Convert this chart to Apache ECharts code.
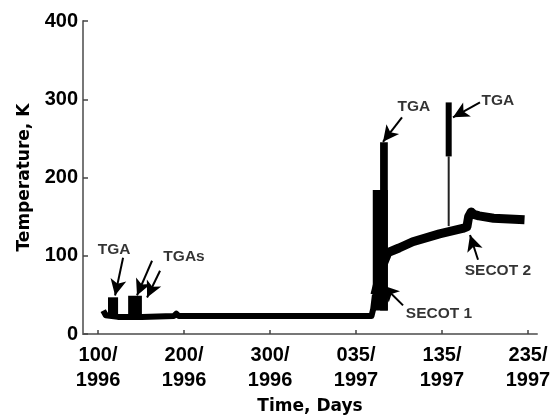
<!DOCTYPE html>
<html>
<head>
<meta charset="utf-8">
<script src="https://cdn.jsdelivr.net/npm/echarts@6/dist/echarts.min.js"></script>
<style>html,body{margin:0;padding:0;background:#fff}#c{width:557px;height:420px}</style>
</head>
<body>
<div id="c"></div>
<script>
// Days counted from 1 Jan 1996; 1997 dates = 365 + day-of-year
const xTickValues = [100, 200, 300, 400, 500, 600];
const xTickLabels = ['100/\n1996', '200/\n1996', '300/\n1996', '035/\n1997', '135/\n1997', '235/\n1997'];

// baseline temperature trace (day, K)
const baselineTrace = [[106, 30], [109, 24], [123, 22], [135, 22], [151, 22], [188, 23], [191, 26], [194, 23],
  [300, 23], [418, 23], [420, 32], [422, 50]];
// trace after SECOT 1 (day, K)
const secotTrace = [[422, 50], [430, 85], [437, 104], [450, 110], [466, 118], [497, 128], [524, 135], [529, 137],
  [531, 150], [534, 156], [537, 153], [543, 151], [560, 148], [596, 146]];
// TGA heating blocks: [startDay, endDay, lowK, highK]
const tgaBlocks = [[111.6, 123.3, 22, 47], [135, 151, 22, 49], [419.5, 437, 30, 184], [428, 437, 30, 245], [504.3, 511.3, 227, 296]];
// thin TGA connection line
const tgaThin = [[507.8, 138], [507.8, 227]];

// annotations
const annotationTexts = ['TGA', 'TGAs', 'TGA', 'TGA', 'SECOT 2', 'SECOT 1'];
const annotationPos = [[118.6, 107.6], [200, 98.7], [467.4, 291], [565, 298.7], [565, 81], [496.5, 26.6]];
const arrowFrom = [[129.1, 97.5], [162.8, 93.7], [172.1, 81], [453.5, 277], [544.2, 296], [541.9, 95], [454.7, 36.7]];
const arrowTo = [[119.8, 49.4], [145.3, 49.4], [157, 46.8], [431.4, 245.6], [512.8, 277], [532.6, 126.6], [431.4, 62]];

const chart = echarts.init(document.getElementById('c'), null, {renderer: 'canvas'});
const tickFont = "'Liberation Sans', Arial, sans-serif";
const titleFont = "'DejaVu Sans', sans-serif";

chart.setOption({
  animation: false,
  backgroundColor: '#fff',
  grid: {left: 83, right: 20, top: 21, bottom: 83, containLabel: false},
  xAxis: {
    type: 'value', min: 82.5, max: 610.5,
    name: 'Time, Days', nameLocation: 'middle', nameGap: 62,
    nameTextStyle: {fontFamily: titleFont, fontWeight: 'bold', fontSize: 17, color: '#000'},
    axisLine: {show: true, lineStyle: {color: '#777', width: 2}},
    axisTick: {show: true, inside: true, length: 4, customValues: xTickValues, lineStyle: {color: '#444', width: 1.5}},
    axisLabel: {
      customValues: xTickValues, margin: 9,
      fontFamily: tickFont, fontWeight: 'bold', fontSize: 20, lineHeight: 25, color: '#000',
      formatter: v => { const i = xTickValues.indexOf(Math.round(v)); return i >= 0 ? xTickLabels[i] : ''; }
    },
    splitLine: {show: false}
  },
  yAxis: {
    type: 'value', min: 0, max: 400, interval: 100,
    name: 'Temperature, K', nameLocation: 'middle', nameGap: 50, nameRotate: 90,
    nameTextStyle: {fontFamily: titleFont, fontWeight: 'bold', fontSize: 17, color: '#000'},
    axisLine: {show: true, lineStyle: {color: '#777', width: 2}},
    axisTick: {show: true, inside: true, length: 5, lineStyle: {color: '#444', width: 1.5}},
    axisLabel: {margin: 5, fontFamily: tickFont, fontWeight: 'bold', fontSize: 20, color: '#000'},
    splitLine: {show: false}
  },
  series: [
    {
      type: 'line', data: baselineTrace, showSymbol: false, symbol: 'none',
      lineStyle: {color: '#000', width: 6, join: 'round'}, z: 3
    },
    {
      type: 'line', data: secotTrace, showSymbol: false, symbol: 'none',
      lineStyle: {color: '#000', width: 9, join: 'round'}, z: 3
    },
    {
      type: 'line', data: tgaThin, showSymbol: false, symbol: 'none',
      lineStyle: {color: '#222', width: 2}, z: 2
    },
    {
      type: 'custom', data: tgaBlocks, encode: {x: [0, 1], y: [2, 3]}, z: 4,
      renderItem: function (params, api) {
        const p0 = api.coord([api.value(0), api.value(3)]);
        const p1 = api.coord([api.value(1), api.value(2)]);
        return {type: 'rect', shape: {x: p0[0], y: p0[1], width: p1[0] - p0[0], height: p1[1] - p0[1]}, style: {fill: '#000'}};
      }
    },
    {
      type: 'scatter', symbolSize: 0, z: 6,
      data: annotationPos.map((p, i) => ({value: p, name: annotationTexts[i]})),
      label: {show: true, position: 'inside', formatter: '{b}', fontFamily: "'Liberation Sans', Arial, sans-serif",
        fontWeight: 'bold', fontSize: 15.5, color: '#000'},
      markLine: {
        silent: true, symbol: ['none', 'arrow'], symbolSize: [12, 16], label: {show: false},
        lineStyle: {color: '#000', width: 2, type: 'solid'},
        data: arrowFrom.map((p, i) => [{coord: p}, {coord: arrowTo[i]}])
      }
    }
  ]
});
</script>
</body>
</html>
